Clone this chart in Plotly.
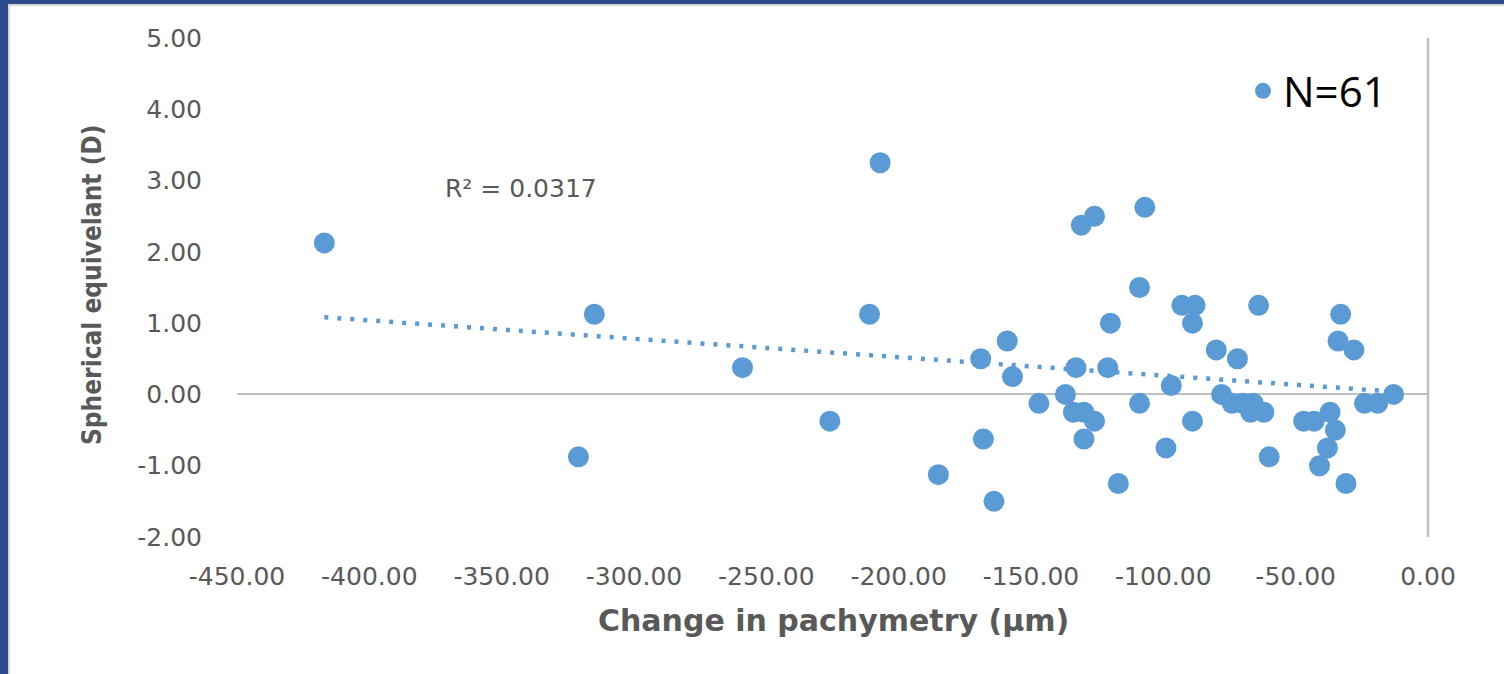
import numpy as np
import plotly.graph_objects as go

# ---- data ----
pachy_change = [-417, -321, -315, -259, -226, -211, -207, -185, -169, -168,
                -164, -159, -157, -147, -137, -134, -133, -131, -130, -130,
                -126, -126, -121, -120, -117, -109, -109, -107, -99, -97,
                -93, -89, -89, -88, -80, -78, -74, -72, -70, -67,
                -66, -64, -62, -60, -47, -43, -41, -38, -37, -35,
                -34, -33, -31, -28, -24, -19, -13]
spherical_eq = [2.125, -0.875, 1.125, 0.375, -0.375, 1.125, 3.25, -1.125, 0.5, -0.625,
                -1.5, 0.75, 0.25, -0.125, 0.0, -0.25, 0.375, 2.375, -0.25, -0.625,
                2.5, -0.375, 0.375, 1.0, -1.25, 1.5, -0.125, 2.625, -0.75, 0.125,
                1.25, 1.0, -0.375, 1.25, 0.625, 0.0, -0.125, 0.5, -0.125, -0.25,
                -0.125, 1.25, -0.25, -0.875, -0.375, -0.375, -1.0, -0.75, -0.25, -0.5,
                0.75, 1.125, -1.25, 0.625, -0.125, -0.125, 0.0]
# linear trendline values at the ends of the data range
trend_y_at_ends = [1.083, 0.04]
series_name = "N=61"
r2_label = "R² = 0.0317"
x_tick_vals = [-450, -400, -350, -300, -250, -200, -150, -100, -50, 0]
x_tick_text = ["-450.00", "-400.00", "-350.00", "-300.00", "-250.00",
               "-200.00", "-150.00", "-100.00", "-50.00", "0.00"]
y_tick_vals = [-2, -1, 0, 1, 2, 3, 4, 5]
y_tick_text = ["-2.00", "-1.00", "0.00", "1.00", "2.00", "3.00", "4.00", "5.00"]
x_title = "Change in pachymetry (µm)"
y_title = "Spherical equivelant (D)"

# ---- layout geometry (pixels) ----
W, H = 1504, 674
L, R, T, B = 237, 76, 38, 137
PW, PH = W - L - R, H - T - B


def px(xp):
    return (xp - L) / PW


def py(yp):
    return (H - B - yp) / PH


BLUE = "#5B9BD5"
GRAY_TXT = "#595959"

tx = [min(pachy_change), max(pachy_change)]
ty = trend_y_at_ends

fig = go.Figure()
fig.add_trace(go.Scatter(
    x=pachy_change, y=spherical_eq, mode="markers", name=series_name,
    marker=dict(color=BLUE, size=21, line=dict(width=0)),
    showlegend=True,
))
fig.add_trace(go.Scatter(
    x=tx, y=ty, mode="lines", showlegend=False,
    line=dict(color=BLUE, width=4.5, dash="4px,9px"),
    hoverinfo="skip",
))

fig.update_layout(
    width=W, height=H,
    margin=dict(l=L, r=R, t=T, b=B, pad=0),
    paper_bgcolor="white", plot_bgcolor="white",
    xaxis=dict(
        range=[-450, 0], tickvals=x_tick_vals, ticktext=x_tick_text,
        showgrid=False, zeroline=False, showline=False, ticks="",
        tickfont=dict(family="DejaVu Sans", size=25, color=GRAY_TXT),
        ticklabelstandoff=22,
    ),
    yaxis=dict(
        range=[-2, 5], tickvals=y_tick_vals, ticktext=y_tick_text,
        showgrid=False, zeroline=True, zerolinecolor="#BFBFBF", zerolinewidth=2,
        showline=False, ticks="",
        tickfont=dict(family="DejaVu Sans", size=25, color=GRAY_TXT),
        ticklabelstandoff=34,
    ),
    legend=dict(
        x=px(1243), y=py(91), xanchor="left", yanchor="middle",
        bgcolor="rgba(0,0,0,0)",
        font=dict(family="Open Sans", size=42, color="black"),
        itemsizing="trace",
    ),
    showlegend=True,
)

# vertical axis line at x = 0 (right edge of plot)
fig.add_shape(type="line", xref="x domain", yref="y domain",
              x0=1, x1=1, y0=0, y1=1, line=dict(color="#BFBFBF", width=2.5))

# frame / slide border decorations
fig.add_shape(type="rect", xref="paper", yref="paper",
              x0=px(0), x1=px(W), y0=py(H), y1=py(0),
              line=dict(width=0), fillcolor="#2D4A8A", layer="below")
fig.add_shape(type="rect", xref="paper", yref="paper",
              x0=px(8), x1=px(W + 10), y0=py(H + 10), y1=py(4),
              line=dict(width=0), fillcolor="white", layer="below")
fig.add_shape(type="line", xref="paper", yref="paper",
              x0=px(9), x1=px(9), y0=py(H), y1=py(4),
              line=dict(color="#D6D6D6", width=2))
fig.add_shape(type="line", xref="paper", yref="paper",
              x0=px(9), x1=px(W), y0=py(5), y1=py(5),
              line=dict(color="#D6D6D6", width=2))

# texts
fig.add_annotation(text=r2_label, xref="paper", yref="paper",
                   x=px(521), y=py(189), xanchor="center", yanchor="middle",
                   showarrow=False,
                   font=dict(family="DejaVu Sans", size=25, color=GRAY_TXT))
fig.add_annotation(text="<b>" + x_title + "</b>", xref="paper", yref="paper",
                   x=px(833), y=py(620), xanchor="center", yanchor="middle",
                   showarrow=False,
                   font=dict(family="DejaVu Sans", size=30, color=GRAY_TXT))
fig.add_annotation(text="<b>" + y_title + "</b>", xref="paper", yref="paper",
                   x=px(92), y=py(285), xanchor="center", yanchor="middle",
                   textangle=-90, showarrow=False,
                   font=dict(family="DejaVu Sans Condensed, Liberation Sans Narrow, DejaVu Sans",
                             size=26, color=GRAY_TXT))

fig.write_html("out.html")
